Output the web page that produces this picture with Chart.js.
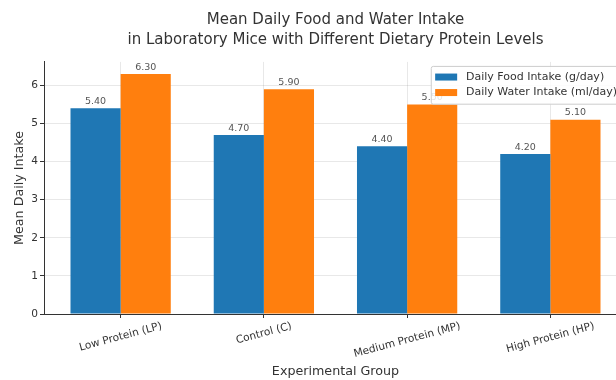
<!DOCTYPE html>
<html>
<head>
<meta charset="utf-8">
<script src="https://cdn.jsdelivr.net/npm/chart.js@4/dist/chart.umd.min.js"></script>
<style>
  html, body { margin: 0; padding: 0; background: #fff; }
  #wrap { width: 616px; height: 380px; overflow: hidden; position: relative; }
  canvas { display: block; }
</style>
</head>
<body>
<div id="wrap"><canvas id="chart" width="670" height="380"></canvas></div>
<script>
// Experimental groups and mean daily intake per group
const groups = ['Low Protein (LP)', 'Control (C)', 'Medium Protein (MP)', 'High Protein (HP)'];
const foodIntake = [5.40, 4.70, 4.40, 4.20];   // g/day
const waterIntake = [6.30, 5.90, 5.50, 5.10];  // ml/day
const yTicks = [0, 1, 2, 3, 4, 5, 6];
const seriesNames = ['Daily Food Intake (g/day)', 'Daily Water Intake (ml/day)'];
const seriesColors = ['#1f77b4', '#ff7f0e'];

const FONT = '"DejaVu Sans", "Liberation Sans", sans-serif';
const TEXT = '#333';
Chart.defaults.font.family = FONT;
Chart.defaults.color = TEXT;

// Centre the title over the plot area rather than the whole canvas
const titleOverPlot = {
  id: 'titleOverPlot',
  afterLayout(chart) {
    if (chart.titleBlock) {
      chart.titleBlock.left = chart.chartArea.left;
      chart.titleBlock.right = chart.chartArea.right;
    }
  }
};

// Group names, rotated 15 degrees and centred under each group
const groupLabels = {
  id: 'groupLabels',
  afterDraw(chart) {
    const { ctx, chartArea } = chart;
    const xs = chart.scales.x;
    const size = 10.6;
    const theta = 15 * Math.PI / 180;
    ctx.save();
    ctx.font = size + 'px ' + FONT;
    ctx.fillStyle = TEXT;
    ctx.textAlign = 'center';
    ctx.textBaseline = 'middle';
    groups.forEach((g, i) => {
      const w = ctx.measureText(g).width;
      const h = size * 1.17;
      const boxH = w * Math.sin(theta) + h * Math.cos(theta);
      const cx = xs.getPixelForValue(i);
      const cy = chartArea.bottom + 6 + boxH / 2;
      ctx.save();
      ctx.translate(cx, cy);
      ctx.rotate(-theta);
      ctx.fillText(g, 0, 0);
      ctx.restore();
    });
    ctx.restore();
  }
};

// Value printed above every bar
const barValues = {
  id: 'barValues',
  afterDatasetsDraw(chart) {
    const { ctx } = chart;
    ctx.save();
    ctx.font = '9.5px ' + FONT;
    ctx.fillStyle = '#555';
    ctx.textAlign = 'center';
    ctx.textBaseline = 'bottom';
    chart.data.datasets.forEach((ds, di) => {
      chart.getDatasetMeta(di).data.forEach((bar, i) => {
        ctx.fillText(ds.data[i].y.toFixed(2), bar.x, bar.y - 2);
      });
    });
    ctx.restore();
  }
};

// Framed legend in the upper right corner of the plot area
const innerLegend = {
  id: 'innerLegend',
  afterDraw(chart) {
    const { ctx, chartArea } = chart;
    const size = 11;
    ctx.save();
    ctx.font = size + 'px ' + FONT;
    const textW = Math.max(...seriesNames.map(n => ctx.measureText(n).width));
    const pad = 0.4 * size, handleW = 2 * size, gap = 0.8 * size, rowH = 15.5;
    const boxW = pad * 2 + handleW + gap + textW;
    const boxH = pad * 2 + rowH * seriesNames.length - 2;
    const right = chartArea.right - 0.5 * size;
    const left = right - boxW;
    const top = chartArea.top + 4;
    ctx.fillStyle = 'rgba(255,255,255,0.85)';
    ctx.strokeStyle = '#cccccc';
    ctx.lineWidth = 1;
    ctx.beginPath();
    ctx.roundRect(left + 0.5, top + 0.5, boxW, boxH, 2);
    ctx.fill();
    ctx.stroke();
    ctx.textAlign = 'left';
    ctx.textBaseline = 'middle';
    seriesNames.forEach((n, i) => {
      const cy = top + pad + rowH * i + rowH / 2 - 1;
      ctx.fillStyle = seriesColors[i];
      ctx.fillRect(left + pad, cy - 3.5, handleW, 7);
      ctx.fillStyle = TEXT;
      ctx.fillText(n, left + pad + handleW + gap, cy);
    });
    ctx.restore();
  }
};

const gridColor = 'rgba(0,0,0,0.09)';

new Chart(document.getElementById('chart'), {
  type: 'bar',
  data: {
    datasets: [
      { label: seriesNames[0], data: foodIntake.map((v, i) => ({ x: i, y: v })), backgroundColor: seriesColors[0] },
      { label: seriesNames[1], data: waterIntake.map((v, i) => ({ x: i, y: v })), backgroundColor: seriesColors[1] }
    ]
  },
  options: {
    responsive: false,
    devicePixelRatio: 1,
    animation: false,
    categoryPercentage: 0.7,
    barPercentage: 1.0,
    layout: { padding: { left: 0, right: 43, top: 0, bottom: 0 } },
    plugins: {
      legend: { display: false },
      tooltip: { enabled: false },
      title: {
        display: true,
        text: ['Mean Daily Food and Water Intake', 'in Laboratory Mice with Different Dietary Protein Levels'],
        color: TEXT,
        font: { size: 15, weight: 'normal', lineHeight: 1.33 },
        padding: { top: 10, bottom: 12 }
      }
    },
    scales: {
      x: {
        type: 'linear',
        offset: false,
        min: -0.535,
        max: 3.535,
        afterBuildTicks(scale) { scale.ticks = groups.map((_, i) => ({ value: i })); },
        afterFit(scale) { scale.height = 66; },
        ticks: { display: false },
        grid: { offset: false, color: gridColor, tickColor: TEXT, tickLength: 4, drawTicks: true },
        border: { display: true, color: TEXT, width: 1 },
        title: { display: true, text: 'Experimental Group', color: TEXT, font: { size: 12.7 }, padding: { top: 0, bottom: 0.5 } }
      },
      y: {
        min: 0,
        max: 6.615,
        afterBuildTicks(scale) { scale.ticks = yTicks.map(v => ({ value: v })); },
        afterFit(scale) { scale.width = 44; },
        ticks: { font: { size: 10.6 }, color: TEXT, padding: 2, callback: v => String(v) },
        grid: { color: gridColor, tickColor: TEXT, tickLength: 4, drawTicks: true },
        border: { display: true, color: TEXT, width: 1 },
        title: { display: true, text: 'Mean Daily Intake', color: TEXT, font: { size: 12.7 }, padding: { top: 12.4, bottom: 0 } }
      }
    }
  },
  plugins: [titleOverPlot, barValues, groupLabels, innerLegend]
});
</script>
</body>
</html>
